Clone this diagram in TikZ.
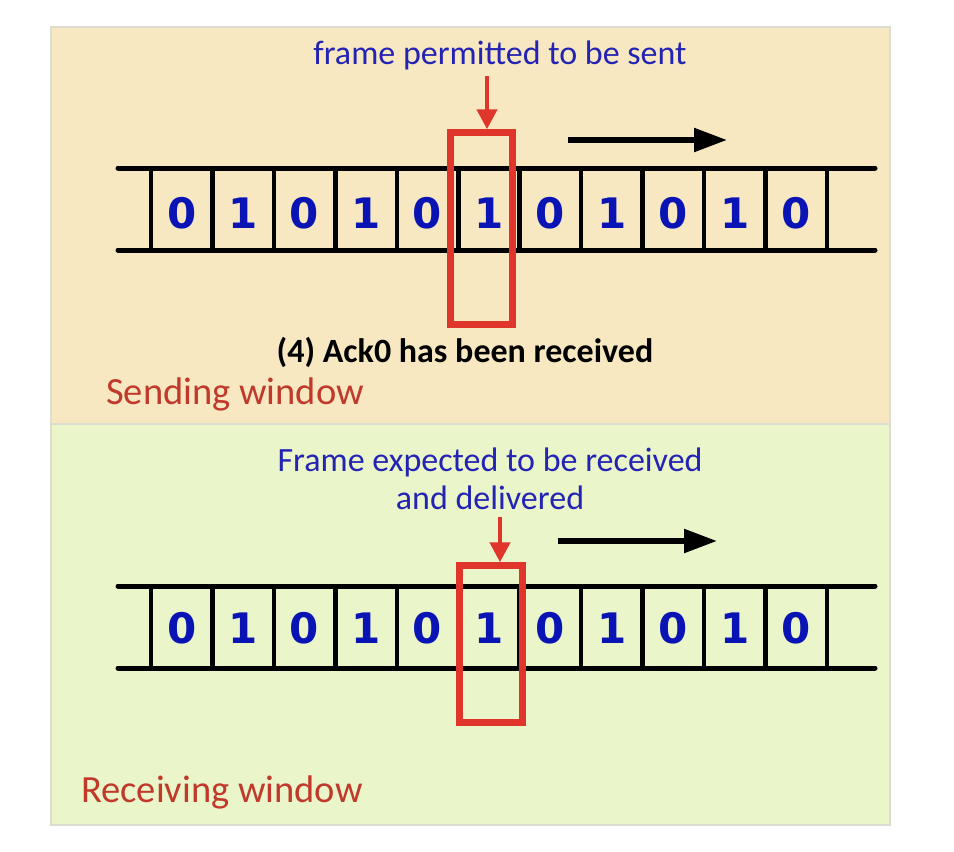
\documentclass[tikz,border=0pt]{standalone}
\usepackage{fontspec}
\setmainfont{Carlito}
\newfontfamily\digitfont{DejaVu Sans}
\usetikzlibrary{arrows.meta}
\definecolor{topbg}{HTML}{F8E8C2}
\definecolor{botbg}{HTML}{EAF6CA}
\definecolor{txtblue}{HTML}{2424B4}
\definecolor{digblue}{HTML}{0A14B4}
\definecolor{boxred}{HTML}{E0352B}
\definecolor{lblred}{HTML}{C0392B}
\definecolor{panelline}{HTML}{DCDCD0}
\tikzset{
  panel/.style={draw=panelline, line width=1.2pt},
  rail/.style={line width=5pt, line cap=round},
  rung/.style={line width=4.5pt},
  digit/.style={font=\digitfont\bfseries\fontsize{42}{42}\selectfont, text=digblue, inner sep=0pt},
  bluelabel/.style={font=\fontsize{34}{38}\selectfont, text=txtblue, inner sep=0pt, align=center},
  winlabel/.style={font=\fontsize{38.5}{38.5}\selectfont, text=lblred, inner sep=0pt, anchor=west},
  boldlabel/.style={font=\bfseries\fontsize{34}{34}\selectfont, text=black, inner sep=0pt},
  winbox/.style={draw=boxred, line width=6.5pt, inner sep=0pt},
  redarrow/.style={draw=boxred, line width=4.5pt, -{Triangle[length=20pt,width=20pt]}},
  blackarrow/.style={draw=black, line width=5.5pt, -{Triangle[length=33pt,width=23pt]}}
}
\begin{document}
\begin{tikzpicture}[x=1pt,y=-1pt]
\useasboundingbox (0,0) rectangle (954,852);
\fill[white] (0,0) rectangle (954,852);
% panels
\filldraw[panel, fill=topbg] (51,27) rectangle (890,424);
\filldraw[panel, fill=botbg] (51,424) rectangle (890,825);

% ---------- top ladder ----------
\draw[rail] (118,168) -- (875,168);
\draw[rail] (118,250) -- (875,250);
\foreach \i in {0,...,11} {
  \draw[rung] ({151+61.45*\i},168) -- ({151+61.45*\i},250);
}
\foreach \d [count=\i from 0] in {0,1,0,1,0,1,0,1,0,1,0} {
  \node[digit] (t\i) at ({181.7+61.45*\i},213) {\d};
}
\node[winbox, minimum width=62pt, minimum height=192pt] (tbox) at (481.5,228.5) {};
\node[bluelabel] (tlabel) at (500,55) {frame permitted to be sent};
\coordinate (tarrowstart) at (487,76);
\draw[redarrow] (tarrowstart) -- (tarrowstart |- tbox.north);
\coordinate (tmovea) at (568,140);
\coordinate (tmoveb) at (727,140);
\draw[blackarrow] (tmovea) -- (tmoveb);
\node[boldlabel] (ack) at (465,352) {(4) Ack0 has been received};
\node[winlabel] (send) at (106,394) {Sending window};

% ---------- bottom ladder ----------
\draw[rail] (118,586) -- (875,586);
\draw[rail] (118,668) -- (875,668);
\foreach \i in {0,...,11} {
  \draw[rung] ({151+61.45*\i},586) -- ({151+61.45*\i},668);
}
\foreach \d [count=\i from 0] in {0,1,0,1,0,1,0,1,0,1,0} {
  \node[digit] (b\i) at ({181.7+61.45*\i},628) {\d};
}
\node[winbox, minimum width=63pt, minimum height=157pt] (bbox) at (491,644) {};
\node[bluelabel] (blabel) at (490,479) {Frame expected to be received\\and delivered};
\coordinate (barrowstart) at (500,517);
\draw[redarrow] (barrowstart) -- (barrowstart |- bbox.north);
\coordinate (bmovea) at (558,541);
\coordinate (bmoveb) at (717,541);
\draw[blackarrow] (bmovea) -- (bmoveb);
\node[winlabel] (recv) at (81,792) {Receiving window};
\end{tikzpicture}
\end{document}
